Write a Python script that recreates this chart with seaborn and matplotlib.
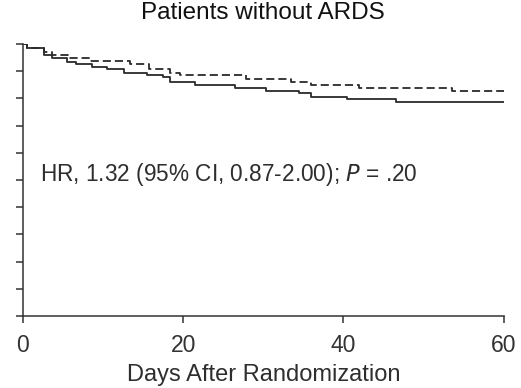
import numpy as np
import pandas as pd
import matplotlib
matplotlib.use('Agg')
import matplotlib.pyplot as plt
import seaborn as sns

### Kaplan-Meier steps ###
solid_days = [0, 0.5, 2.6, 3.6, 5.5, 6.6, 8.6, 10.5, 12.6, 15.5, 17.5, 18.4, 21.5, 26.5, 30.4, 34.5, 36.0, 40.4, 46.5, 60]
solid_surv = [1.0, 0.984, 0.96, 0.947, 0.935, 0.926, 0.917, 0.907, 0.895, 0.886, 0.880, 0.859, 0.849, 0.839, 0.828, 0.819, 0.806, 0.797, 0.786, 0.786]

dashed_days = [0, 0.5, 2.6, 3.6, 5.6, 8.4, 13.4, 15.7, 18.4, 19.6, 27.9, 33.5, 36.0, 42.0, 53.5, 60]
dashed_surv = [1.0, 0.984, 0.972, 0.96, 0.95, 0.939, 0.926, 0.907, 0.895, 0.886, 0.871, 0.859, 0.849, 0.837, 0.827, 0.827]

df = pd.concat([
    pd.DataFrame({'day': solid_days, 'surv': solid_surv, 'group': 'solid'}),
    pd.DataFrame({'day': dashed_days, 'surv': dashed_surv, 'group': 'dashed'}),
])

sns.set_style('white')
plt.rcParams['font.family'] = ['Liberation Sans', 'DejaVu Sans']

fig, ax = plt.subplots(figsize=(5.21, 3.88), dpi=100)
fig.subplots_adjust(left=0.0436, right=0.967, bottom=0.1856, top=0.8866)

sns.lineplot(data=df, x='day', y='surv', style='group', estimator=None,
             drawstyle='steps-post', color='#2a2a2a', linewidth=1.3,
             dashes={'solid': '', 'dashed': (4.5, 2.2)}, legend=False, ax=ax)

ax.set_xlim(0, 60)
ax.set_ylim(0, 1.0)
ax.set_xticks([0, 20, 40, 60])
ax.set_yticks(np.arange(0, 1.01, 0.1))
ax.set_yticklabels([])
ax.tick_params(axis='both', direction='out', length=5, width=1.1, color='#333333',
               labelsize=16.5, labelcolor='#333333', left=True, bottom=True, pad=8)
for s in ['top', 'right']:
    ax.spines[s].set_visible(False)
for s in ['left', 'bottom']:
    ax.spines[s].set_color('#333333')
    ax.spines[s].set_linewidth(1.1)
ax.spines['left'].set_bounds(0, 1.0)

ax.set_xlabel('Days After Randomization', fontsize=17, color='#2e2e2e', labelpad=5)
ax.set_ylabel('')
ax.set_title('Patients without ARDS', fontsize=17.5, color='#111111', pad=18)

ax.text(2.2, 0.52, r'HR, 1.32 (95% CI, 0.87-2.00); $\it{P}$ = .20', fontsize=16.3,
        color='#2e2e2e', va='center', ha='left')

plt.savefig('out.png', dpi=100)
